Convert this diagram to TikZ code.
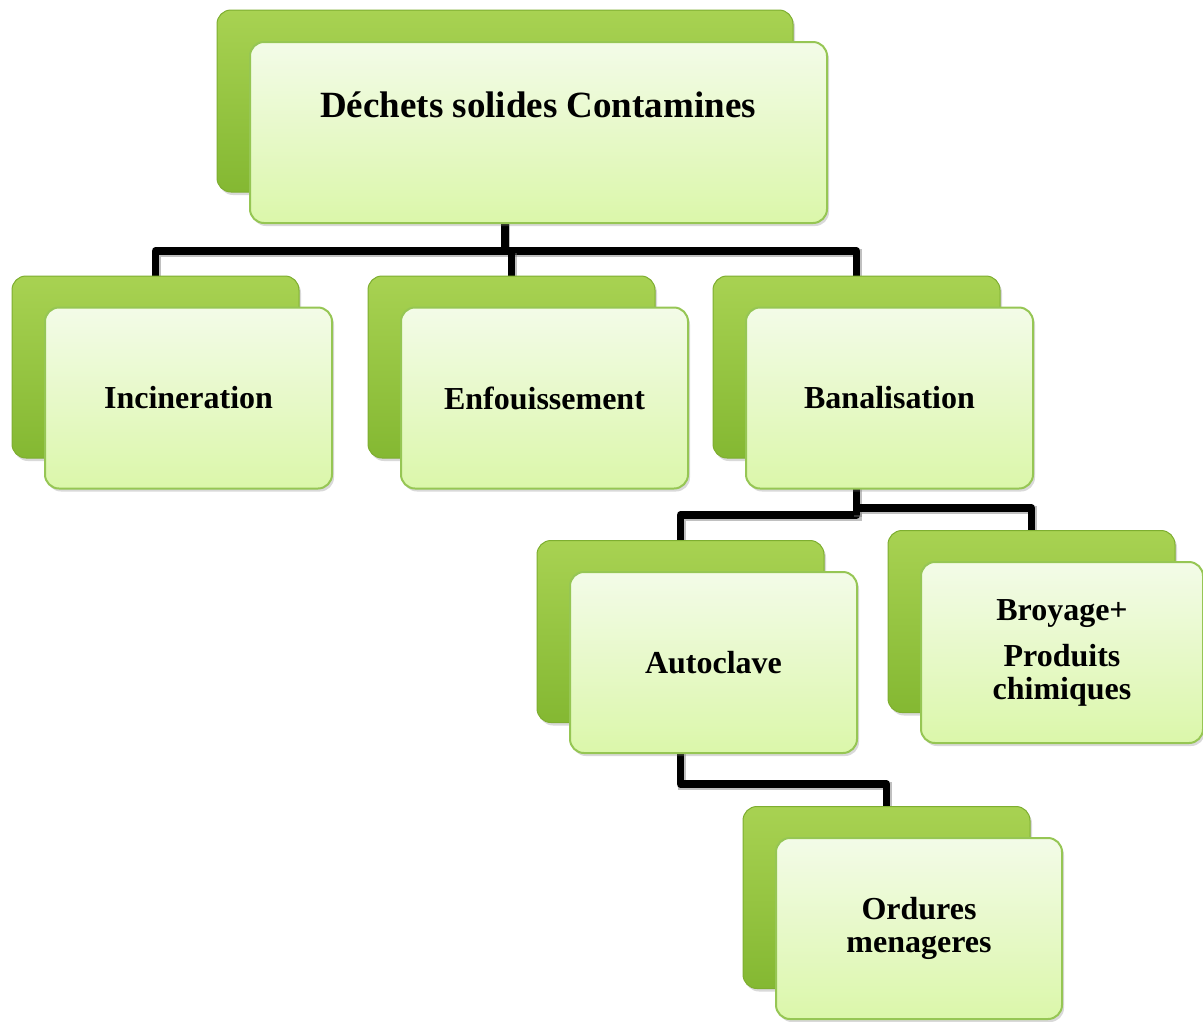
\documentclass[tikz,border=0pt]{standalone}
\usepackage{fontspec}
\setmainfont{Liberation Serif}
\usetikzlibrary{shadows}

\definecolor{backtop}{RGB}{168,210,82}
\definecolor{backbot}{RGB}{132,184,50}
\definecolor{backline}{RGB}{126,174,48}
\definecolor{fronttop}{RGB}{243,251,232}
\definecolor{frontbot}{RGB}{219,247,170}
\definecolor{frontline}{RGB}{150,198,84}

\pgfdeclarelayer{bg}
\pgfsetlayers{bg,main}

\tikzset{
  backbox/.style={rectangle, rounded corners=14pt, draw=backline, line width=1pt,
    top color=backtop, bottom color=backbot, inner sep=0pt,
    minimum width=287pt, minimum height=182pt,
    drop shadow={opacity=0.3, shadow xshift=2pt, shadow yshift=-3pt}},
  frontbox/.style={rectangle, rounded corners=14pt, draw=frontline, line width=2pt,
    top color=fronttop, bottom color=frontbot, inner sep=0pt, align=center,
    minimum width=287pt, minimum height=181pt,
    font=\bfseries\fontsize{32}{33}\selectfont,
    drop shadow={opacity=0.3, shadow xshift=2pt, shadow yshift=-3pt}},
  toptext/.style={inner sep=0pt, anchor=base, font=\bfseries\fontsize{37}{40}\selectfont},
  conn/.style={line width=7.5pt, black, line join=round,
    preaction={draw, black!55, opacity=0.45, line width=7.5pt,
      transform canvas={xshift=1.5pt, yshift=-2pt}}},
}

\begin{document}
\begin{tikzpicture}[x=1pt,y=-1pt]
\useasboundingbox (0,0) rectangle (1203,1021);

% root
\node[backbox, minimum width=576pt] (topB) at (505,101) {};
\node[frontbox, minimum width=577pt] (top) at (538.5,132.5) {};
\node[toptext] (topT) at (538,117) {Déchets solides Contamines};

% first level
\node[backbox] (incB) at (155.5,367) {};
\node[frontbox] (inc) at (188.5,398) {Incineration};

\node[backbox] (enfB) at (511.5,367) {};
\node[frontbox] (enf) at (544.5,398) {Enfouissement};

\node[backbox] (banB) at (856.5,367) {};
\node[frontbox] (ban) at (889.5,398) {Banalisation};

% second level
\node[backbox] (autB) at (680.5,631.5) {};
\node[frontbox] (aut) at (713.5,662.5) {Autoclave};

\node[backbox] (broB) at (1031.5,621.5) {};
\node[frontbox, minimum width=282pt] (bro) at (1062,652.5) {Broyage+\\[13pt]Produits\\chimiques};

% third level
\node[backbox] (ordB) at (886.5,897.5) {};
\node[frontbox, minimum width=286pt] (ord) at (919,928.5) {Ordures\\menageres};

% connectors
\coordinate (busA) at (0,251);
\coordinate (busB1) at (0,515);
\coordinate (busB2) at (0,508);
\coordinate (busC) at (0,784);

\begin{pgfonlayer}{bg}
  \draw[conn] (topB.center) -- (topB.center |- busA);
  \draw[conn] (incB.north) -- (incB.north |- busA) -- (banB.north |- busA) -- (banB.north);
  \draw[conn] (enfB.north |- busA) -- (enfB.north);
  \draw[conn] (banB.center) -- (banB.center |- busB1) -- (autB.north |- busB1) -- (autB.north);
  \draw[conn] (banB.center |- busB1) -- (banB.center |- busB2) -- (broB.north |- busB2) -- (broB.north);
  \draw[conn] (autB.center) -- (autB.center |- busC) -| (ordB.north);
\end{pgfonlayer}
\end{tikzpicture}
\end{document}
